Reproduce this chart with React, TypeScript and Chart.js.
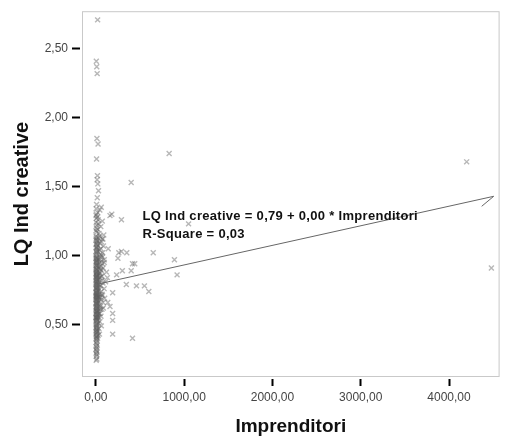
import React, { useEffect, useRef } from "react";
import { Chart, registerables } from "chart.js";

Chart.register(...registerables);

// Axis ranges and ticks
const xMin = -157;
const xMax = 4573;
const yMin = 0.119;
const yMax = 2.773;
const xTickValues = [0, 1000, 2000, 3000, 4000];
const yTickValues = [0.5, 1.0, 1.5, 2.0, 2.5];

const xTitle = "Imprenditori";
const yTitle = "LQ Ind creative";
const equationLines = ["LQ Ind creative = 0,79 + 0,00 * Imprenditori", "R-Square = 0,03"];
const equationX = 528;
const equationY = [1.284, 1.154];

// Regression line end points
const regLineX = [0, 4506];
const regLineY = [0.79, 1.43];

// Dense cluster near zero
const clusterX = [
  8, 3, 45, 22, 5, 61, 2, 18, 7, 25, 73, 4, 30, 9, 56, 6, 20, 1, 12, 35, 90,
  3, 44, 7, 26, 70, 2, 19, 5, 63, 12, 8, 45, 1, 17, 86, 23, 11, 4, 58, 9, 15, 38, 2, 21, 77, 6, 50, 10, 3, 66,
  4, 52, 20, 7, 1, 95, 30, 9, 5, 65, 11, 2, 18, 42, 8, 74, 3, 22, 6, 35, 10, 57, 1, 28, 83, 5, 55, 9, 19, 3, 64, 7, 12, 40, 2, 46, 8, 31, 11, 4, 71, 6, 14, 60, 9,
  3, 10, 48, 6, 27, 13, 1, 68, 22, 4, 15, 36, 9, 2, 80, 12, 5, 30, 7, 56, 48, 3, 11, 24, 6, 94, 1, 19, 9, 33, 4, 62, 26, 7, 2, 17, 10, 44, 5, 75, 8, 12, 3, 29, 15, 6, 38, 54, 1, 23,
  5, 14, 2, 61, 9, 32, 7, 17, 3, 82, 26, 6, 1, 19, 10, 40, 4, 52, 8, 23, 2, 13, 52, 6, 69, 11, 3, 28, 9, 16, 5, 35, 1, 47, 20, 7, 14, 4, 25, 58, 2, 17, 8, 30, 6,
  3, 11, 20, 6, 45, 1, 9, 27, 4, 13, 7, 62, 2, 10, 34, 5, 14, 8, 22, 3, 12, 6, 41, 1, 9, 25, 4, 11, 7, 19,
  5, 12, 2, 8, 16, 4, 10, 1, 7, 14, 3, 9, 6, 11, 4,
];
const clusterY = [
  1.37, 1.34, 1.33, 1.31, 1.30, 1.35, 1.29, 1.28, 1.27, 1.26, 1.25, 1.24, 1.23, 1.22, 1.21, 1.20, 1.19, 1.18, 1.17, 1.16, 1.15,
  1.14, 1.14, 1.13, 1.13, 1.12, 1.12, 1.11, 1.11, 1.10, 1.10, 1.09, 1.09, 1.08, 1.08, 1.07, 1.07, 1.06, 1.06, 1.05, 1.05, 1.04, 1.04, 1.03, 1.03, 1.02, 1.02, 1.01, 1.01, 1.00, 1.00,
  0.99, 0.99, 0.98, 0.98, 0.98, 0.97, 0.97, 0.97, 0.96, 0.96, 0.96, 0.95, 0.95, 0.95, 0.94, 0.94, 0.93, 0.93, 0.93, 0.92, 0.92, 0.92, 0.91, 0.91, 0.91, 0.90, 0.90, 0.90, 0.89, 0.89, 0.89, 0.88, 0.88, 0.88, 0.87, 0.87, 0.87, 0.86, 0.86, 0.86, 0.85, 0.85, 0.85, 0.85, 0.85,
  0.84, 0.84, 0.84, 0.83, 0.83, 0.83, 0.82, 0.82, 0.82, 0.81, 0.81, 0.81, 0.80, 0.80, 0.80, 0.79, 0.79, 0.79, 0.78, 0.78, 0.78, 0.77, 0.77, 0.77, 0.76, 0.76, 0.76, 0.75, 0.75, 0.75, 0.74, 0.74, 0.74, 0.73, 0.73, 0.73, 0.72, 0.72, 0.72, 0.71, 0.71, 0.71, 0.71, 0.70, 0.70, 0.70, 0.70, 0.70, 0.70, 0.70,
  0.69, 0.69, 0.68, 0.68, 0.68, 0.67, 0.67, 0.67, 0.66, 0.66, 0.66, 0.65, 0.65, 0.65, 0.64, 0.64, 0.63, 0.63, 0.63, 0.62, 0.62, 0.62, 0.61, 0.61, 0.61, 0.60, 0.60, 0.60, 0.59, 0.59, 0.59, 0.58, 0.58, 0.58, 0.57, 0.57, 0.57, 0.56, 0.56, 0.56, 0.55, 0.55, 0.55, 0.55, 0.55,
  0.54, 0.54, 0.53, 0.53, 0.52, 0.52, 0.51, 0.51, 0.50, 0.50, 0.49, 0.49, 0.48, 0.48, 0.47, 0.47, 0.46, 0.46, 0.45, 0.45, 0.44, 0.44, 0.43, 0.43, 0.42, 0.42, 0.41, 0.41, 0.40, 0.40,
  0.39, 0.38, 0.37, 0.36, 0.35, 0.34, 0.33, 0.32, 0.31, 0.30, 0.29, 0.28, 0.27, 0.25, 0.24,
];

// Spread points and outliers
const spreadX = [
  160, 290, 250, 260, 350, 650, 415, 300, 235, 345, 460, 550, 600, 190, 160, 190, 190, 190, 415, 135, 440, 400, 180, 290, 400, 830, 1050, 890, 920,
  80, 95, 120, 70, 110, 140, 85, 100, 75, 130,
  20, 5, 10, 15, 12, 25, 8, 18, 14, 30, 22, 16,
  4200, 4480,
];
const spreadY = [
  1.29, 1.26, 0.98, 1.02, 1.02, 1.02, 0.94, 0.89, 0.86, 0.79, 0.78, 0.78, 0.74, 0.73, 0.63, 0.58, 0.53, 0.43, 0.40, 0.66, 0.94, 0.89, 1.30, 1.03, 1.53, 1.74, 1.23, 0.97, 0.86,
  1.12, 0.95, 0.88, 0.72, 0.81, 1.05, 0.62, 0.69, 0.99, 0.84,
  2.71, 2.41, 2.37, 2.32, 1.85, 1.81, 1.70, 1.58, 1.55, 1.47, 1.52, 1.42,
  1.68, 0.91,
];

const fmt = (v: number) => v.toFixed(2).replace(".", ",");
const FONT = '"Liberation Sans", Arial, Helvetica, sans-serif';

const decorPlugin = {
  id: "decor",
  beforeDatasetsDraw(chart: any) {
    const { ctx, chartArea: a } = chart;
    ctx.save();
    ctx.strokeStyle = "#c9c9c9";
    ctx.lineWidth = 1;
    ctx.strokeRect(a.left + 0.5, a.top + 0.5, a.right - a.left - 1, a.bottom - a.top - 1);
    ctx.restore();
  },
  afterDatasetsDraw(chart: any) {
    const { ctx } = chart;
    const xs = chart.scales.x;
    const ys = chart.scales.y;
    ctx.save();
    const ex = xs.getPixelForValue(regLineX[1]);
    const ey = ys.getPixelForValue(regLineY[1]);
    ctx.strokeStyle = "#666";
    ctx.lineWidth = 1;
    ctx.beginPath();
    ctx.moveTo(ex, ey);
    ctx.lineTo(ex - 12, ey + 10);
    ctx.stroke();
    ctx.fillStyle = "#111";
    ctx.font = "bold 13px " + FONT;
    try {
      (ctx as any).letterSpacing = "0.3px";
    } catch (e) {}
    ctx.textBaseline = "middle";
    ctx.textAlign = "left";
    equationLines.forEach((t, i) => {
      ctx.fillText(t, xs.getPixelForValue(equationX), ys.getPixelForValue(equationY[i]));
    });
    ctx.restore();
  },
};

export default function App() {
  const ref = useRef<HTMLCanvasElement | null>(null);
  useEffect(() => {
    if (!ref.current) return;
    const points = clusterX.map((x, i) => ({ x, y: clusterY[i] })).concat(
      spreadX.map((x, i) => ({ x, y: spreadY[i] }))
    );
    const chart = new Chart(ref.current, {
      type: "scatter",
      data: {
        datasets: [
          {
            type: "line",
            data: regLineX.map((x, i) => ({ x, y: regLineY[i] })),
            borderColor: "#666",
            borderWidth: 1,
            pointRadius: 0,
            fill: false,
          } as any,
          {
            data: points,
            pointStyle: "crossRot",
            pointRadius: 3.5,
            borderWidth: 1.4,
            borderColor: "rgba(95,95,95,0.45)",
            backgroundColor: "rgba(95,95,95,0.45)",
          },
        ],
      },
      options: {
        animation: false,
        responsive: false,
        layout: { padding: { top: 8, right: 2, left: 0, bottom: 0 } },
        plugins: { legend: { display: false }, tooltip: { enabled: false } },
        scales: {
          x: {
            type: "linear",
            min: xMin,
            max: xMax,
            afterFit: (s: any) => {
              s.height = 62;
            },
            afterBuildTicks: (s: any) => {
              s.ticks = xTickValues.map((v) => ({ value: v }));
            },
            border: { display: false },
            grid: {
              drawOnChartArea: false,
              drawTicks: true,
              tickLength: 10,
              tickWidth: 2,
              tickColor: "#000",
              tickBorderDash: [0, 2, 7, 100],
            },
            ticks: {
              padding: 3,
              color: "#444",
              font: { family: FONT, size: 12 },
              maxRotation: 0,
              callback: (v: any) => fmt(Number(v)),
            },
            title: {
              display: true,
              text: xTitle,
              color: "#111",
              font: { family: FONT, size: 19, weight: "bold" },
              padding: { top: 0, bottom: 1 },
            },
          },
          y: {
            type: "linear",
            min: yMin,
            max: yMax,
            afterFit: (s: any) => {
              s.width = 82;
            },
            afterBuildTicks: (s: any) => {
              s.ticks = yTickValues.map((v) => ({ value: v }));
            },
            border: { display: false },
            grid: {
              drawOnChartArea: false,
              drawTicks: true,
              tickLength: 10,
              tickWidth: 2,
              tickColor: "#000",
              tickBorderDash: [8, 100],
            },
            ticks: {
              padding: 4,
              color: "#444",
              font: { family: FONT, size: 12 },
              callback: (v: any) => fmt(Number(v)),
            },
            title: {
              display: true,
              text: yTitle,
              color: "#111",
              font: { family: FONT, size: 20, weight: "bold" },
              padding: { top: 10, bottom: 0 },
            },
          },
        },
      },
      plugins: [decorPlugin],
    });
    return () => chart.destroy();
  }, []);
  return (
    <div style={{ position: "fixed", left: 0, top: 0, width: 505, height: 439, background: "#fff" }}>
      <canvas ref={ref} width={505} height={439} style={{ width: 505, height: 439 }} />
    </div>
  );
}
